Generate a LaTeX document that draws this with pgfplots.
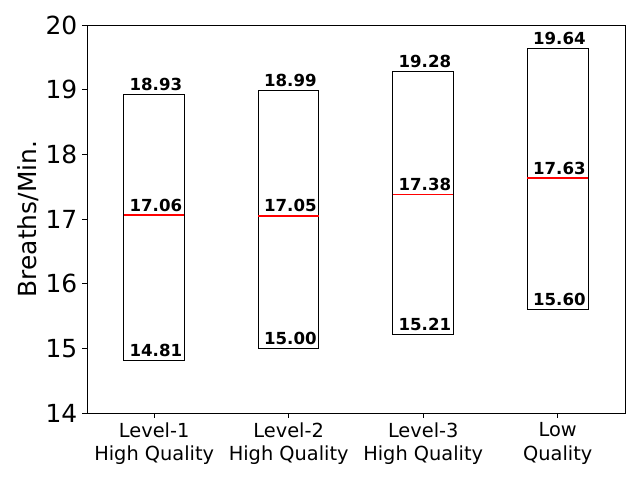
\documentclass[border=0pt]{standalone}
\usepackage{fontspec}
\setmainfont{DejaVu Sans}
\usepackage{pgfplots}
\usepackage{pgfplotstable}
\pgfplotsset{compat=1.18}

\pgfplotstableread{
x      y      lbl
-0.185 14.81  14.81
-0.185 17.06  17.06
-0.185 18.93  18.93
0.815  15.00  15.00
0.815  17.05  17.05
0.815  18.99  18.99
1.815  15.21  15.21
1.815  17.38  17.38
1.815  19.28  19.28
2.815  15.60  15.60
2.815  17.63  17.63
2.815  19.64  19.64
}\labels

\begin{document}
\begin{tikzpicture}
\path[use as bounding box] (-62.6bp,-48.2bp) rectangle (398.2bp,297.4bp);
\begin{axis}[
  at={(0,0)}, anchor=south west,
  scale only axis, width=387.4bp, height=279.4bp,
  xmin=-0.5, xmax=3.5, ymin=14, ymax=20,
  xtick={0,1,2,3},
  xticklabels={Level-1\\High Quality, Level-2\\High Quality, Level-3\\High Quality, Low\\Quality},
  x tick label style={font=\fontsize{14}{16.8}\selectfont, align=center},
  ytick={14,15,16,17,18,19,20},
  y tick label style={font=\fontsize{18}{21}\selectfont},
  /pgf/number format/assume math mode=true,
  ylabel={Breaths/Min.},
  ylabel style={font=\fontsize{18}{21}\selectfont, yshift=-2bp},
  tick align=outside, tick pos=left,
  major tick length=3.5bp,
  axis line style={line width=0.6pt},
  every tick/.style={black, line width=0.6pt},
  clip=false,
]
% boxes: lower value to upper value
\addplot[black, line width=0.7pt] coordinates {(-0.225,14.81)(0.225,14.81)(0.225,18.93)(-0.225,18.93)} -- cycle;
\addplot[black, line width=0.7pt] coordinates {(0.775,15.00)(1.225,15.00)(1.225,18.99)(0.775,18.99)} -- cycle;
\addplot[black, line width=0.7pt] coordinates {(1.775,15.21)(2.225,15.21)(2.225,19.28)(1.775,19.28)} -- cycle;
\addplot[black, line width=0.7pt] coordinates {(2.775,15.60)(3.225,15.60)(3.225,19.64)(2.775,19.64)} -- cycle;
% medians
\addplot[red, line width=1.3pt] coordinates {(-0.225,17.06)(0.225,17.06)};
\addplot[red, line width=1.3pt] coordinates {(0.775,17.05)(1.225,17.05)};
\addplot[red, line width=1.3pt] coordinates {(1.775,17.38)(2.225,17.38)};
\addplot[red, line width=1.3pt] coordinates {(2.775,17.63)(3.225,17.63)};
\addplot[draw=none, nodes near coords, point meta=explicit symbolic,
  every node near coord/.style={anchor=south west, inner xsep=0pt, inner ysep=2.6bp,
    font=\fontsize{12}{14}\selectfont\bfseries, black}]
  table[x=x, y=y, meta=lbl] {\labels};
\end{axis}
\end{tikzpicture}
\end{document}
